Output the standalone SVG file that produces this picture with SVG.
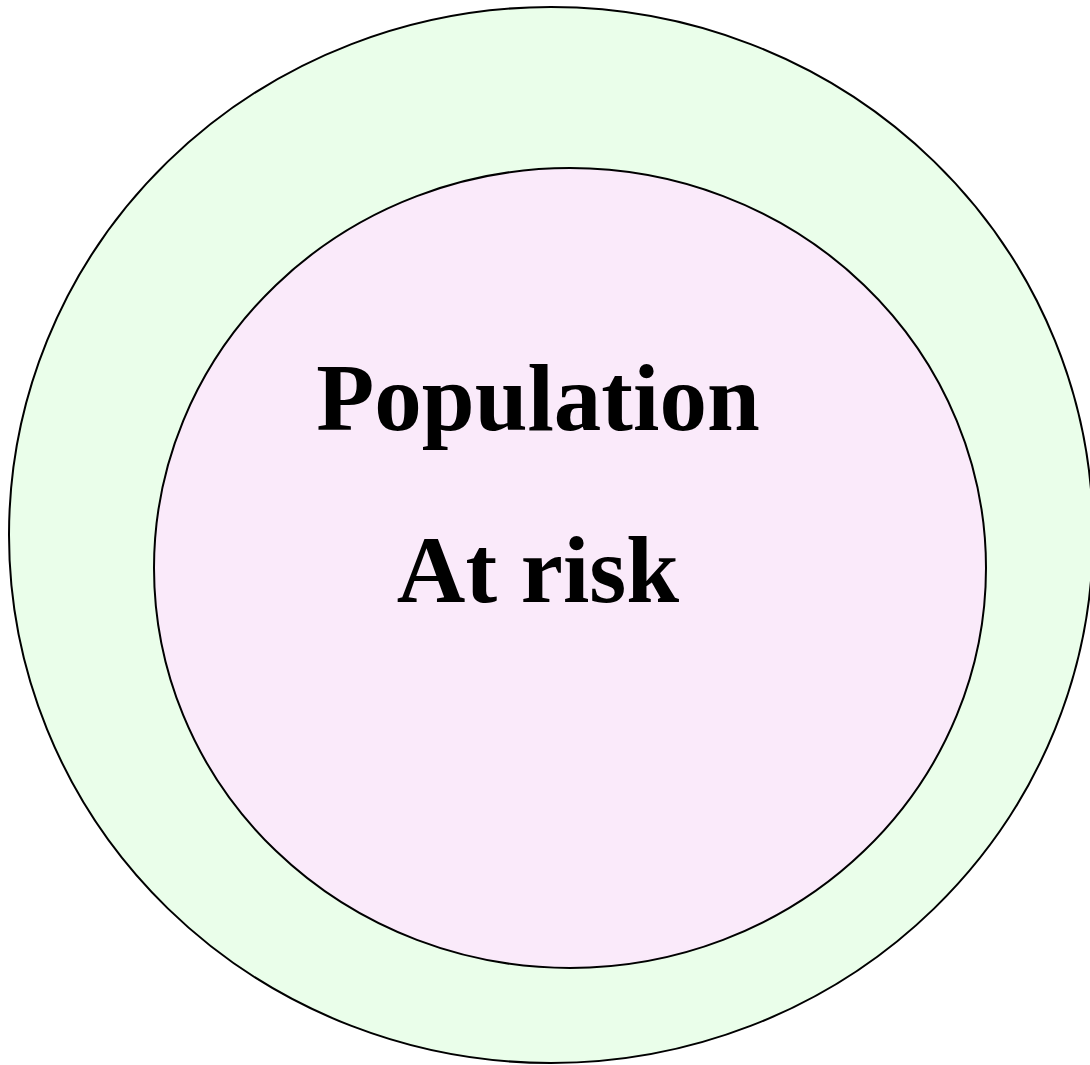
<svg xmlns="http://www.w3.org/2000/svg" width="1090" height="1065" viewBox="0 0 1090 1065">
<style>
.ring{stroke:#000;stroke-width:2}
.lbl{font-family:"Liberation Serif","Times New Roman",serif;font-weight:bold;font-size:95px;fill:#000;text-anchor:middle}
</style>
<rect width="1090" height="1065" fill="#fff"/>
<g id="outer"><ellipse class="ring" cx="551" cy="535" rx="542" ry="528" fill="#EAFEEA"/></g>
<g id="inner"><ellipse class="ring" cx="570" cy="568" rx="416" ry="400" fill="#FAEAFA"/>
<text class="lbl" x="538" y="430">Population</text>
<text class="lbl" x="538" y="602">At risk</text></g>
<g id="connectors"></g>
</svg>
